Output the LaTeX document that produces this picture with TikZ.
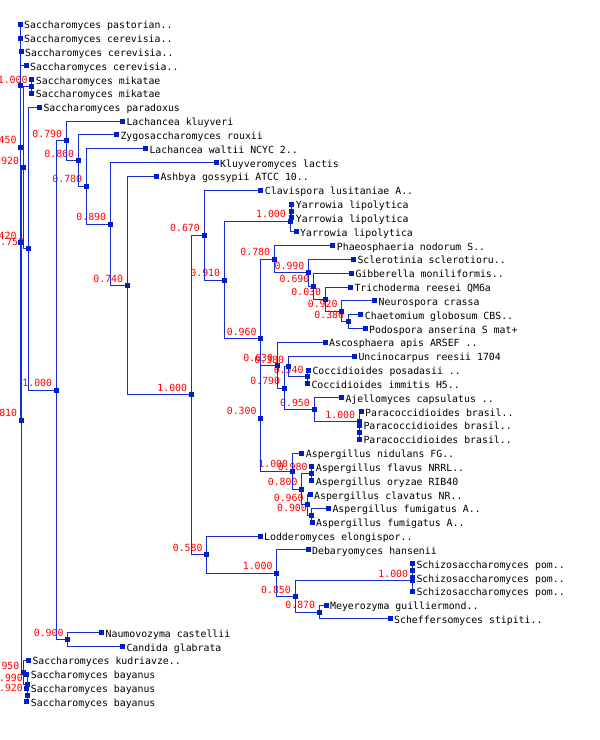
\documentclass[tikz,border=0pt]{standalone}
\usepackage{fontspec}
\newfontfamily\treefont{DejaVu Sans Mono}
\definecolor{treeblue}{RGB}{20,44,210}
\definecolor{sqblue}{RGB}{0,30,200}
\tikzset{
  branch/.style={draw=treeblue, line width=1pt},
  sq/.style={rectangle, fill=sqblue, draw=none, inner sep=0pt, minimum size=5pt},
  leaflab/.style={anchor=base west, inner sep=0pt, xshift=4pt, yshift=-4.5pt,
    font=\treefont\fontsize{9.85}{11}\selectfont, text=black},
  boot/.style={anchor=base east, inner sep=0pt, xshift=-4pt, yshift=3.5pt,
    font=\treefont\fontsize{9.85}{11}\selectfont, text=red},
}
\begin{document}
\begin{tikzpicture}[x=1pt,y=-13.83pt]
\useasboundingbox (0,-0.757) rectangle (600,52.75);
% leaf positions
\foreach \i/\x in {1/20,2/20,3/21,4/26,5/31.7,6/31.7,7/39.3,8/122.3,9/116.3,10/145.3,
  11/216,12/156.3,13/260.7,14/291.7,15/291.7,16/296,17/332.7,18/353.3,19/351.3,20/350.3,
  21/374.5,22/360.7,23/365,24/325,25/354.3,26/308.3,27/307.3,28/341.3,29/361,30/359.3,
  31/359.3,32/301.7,33/311.7,34/311.7,35/310,36/328.3,37/312,38/260,39/308,40/412.3,
  41/412.3,42/412.3,43/326,44/390,45/101.5,46/122.3,47/28.3,48/26.7,49/26.7,50/26.7}
  {\coordinate (L\i) at (\x,\i);}
% internal nodes
\coordinate (root) at (20,3.725);
\coordinate (NC) at (20,5.45);
\coordinate (N450) at (20.7,9.905);
\coordinate (N420) at (20.7,16.81);
\coordinate (N810) at (21.3,29.62);
\coordinate (N920a) at (23.3,11.365);
\coordinate (M) at (31.7,5.5);
\coordinate (N750) at (28.3,17.23);
\coordinate (N56) at (56.3,27.465);
\coordinate (N790) at (66.3,9.43);
\coordinate (N860) at (78.3,10.86);
\coordinate (N780) at (86.3,12.725);
\coordinate (N890) at (110.3,15.45);
\coordinate (N740) at (127.3,19.9);
\coordinate (N1000b) at (191.3,27.795);
\coordinate (N670) at (204,16.245);
\coordinate (N910) at (224.3,19.49);
\coordinate (N1000c) at (290,15.25);
\coordinate (NY1) at (291.7,14.5);
\coordinate (N960) at (260.7,23.73);
\coordinate (N780b) at (274.3,17.985);
\coordinate (A) at (308.5,18.97);
\coordinate (B) at (313.5,19.94);
\coordinate (C) at (325.3,20.875);
\coordinate (D) at (341.7,21.75);
\coordinate (E) at (348.3,22.5);
\coordinate (N300) at (260.7,29.48);
\coordinate (X) at (277.3,25.655);
\coordinate (Y) at (284.3,27.31);
\coordinate (Z) at (288.3,25.75);
\coordinate (Cocc) at (307.7,26.5);
\coordinate (W) at (314,28.875);
\coordinate (P1) at (359.3,29.75);
\coordinate (P2) at (359.3,30.5);
\coordinate (Asp) at (292.3,33.31);
\coordinate (N800) at (301.7,34.625);
\coordinate (FO) at (311.7,33.5);
\coordinate (N960c) at (307.7,35.75);
\coordinate (N900c) at (311,36.5);
\coordinate (N580) at (206.7,39.345);
\coordinate (N1000d) at (276.7,40.69);
\coordinate (N850) at (295,42.375);
\coordinate (S1) at (412.3,41.25);
\coordinate (Sa) at (412.3,40.5);
\coordinate (N870) at (319.3,43.5);
\coordinate (N900b) at (67.7,45.5);
\coordinate (N950) at (23.5,47.875);
\coordinate (N990) at (27,48.75);
\coordinate (N920z) at (27,49.5);
% bootstrap labels
\foreach \n/\v in {M/1.000,N450/0.450,N920a/0.920,N420/0.420,N750/0.750,N810/0.810,
  N56/1.000,N790/0.790,N860/0.860,N780/0.780,N890/0.890,N740/0.740,N1000b/1.000,
  N670/0.670,N910/0.910,N1000c/1.000,N780b/0.780,A/0.990,B/0.690,C/0.030,D/0.920,
  E/0.380,N960/0.960,X/0.630,Z/0.380,Cocc/0.540,Y/0.790,W/0.950,P1/1.000,N300/0.300,
  Asp/1.000,FO/0.980,N800/0.800,N960c/0.960,N900c/0.900,N580/0.580,N1000d/1.000,
  N850/0.850,S1/1.000,N870/0.870,N900b/0.900,N950/0.950,N990/0.990,N920z/0.920}
  {\node[boot] (b\n) at (\n) {\v};}
% branches
\foreach \p/\c in {root/L2,root/NC,NC/L1,NC/N450,N450/L3,N450/N420,N420/L4,N420/N810,
  N810/N920a,N810/N950,N920a/M,N920a/N750,M/L5,M/L6,N750/L7,N750/N56,N56/N790,N56/N900b,
  N790/L8,N790/N860,N860/L9,N860/N780,N780/L10,N780/N890,N890/L11,N890/N740,
  N740/L12,N740/N1000b,N1000b/N670,N1000b/N580,N670/L13,N670/N910,N910/N1000c,N910/N960,
  N1000c/NY1,N1000c/L16,NY1/L14,NY1/L15,N960/N780b,N960/N300,N780b/L17,N780b/A,
  A/L18,A/B,B/L19,B/C,C/L20,C/D,D/L21,D/E,E/L22,E/L23,N300/X,N300/Asp,X/L24,X/Y,
  Y/Z,Y/W,Z/L25,Z/Cocc,Cocc/L26,Cocc/L27,W/L28,W/P1,P1/L29,P1/P2,P2/L30,P2/L31,
  Asp/L32,Asp/N800,N800/FO,N800/N960c,FO/L33,FO/L34,N960c/L35,N960c/N900c,
  N900c/L36,N900c/L37,N580/L38,N580/N1000d,N1000d/L39,N1000d/N850,N850/S1,N850/N870,
  S1/Sa,S1/L42,Sa/L40,Sa/L41,N870/L43,N870/L44,N900b/L45,N900b/L46,
  N950/L47,N950/N990,N990/L48,N990/N920z,N920z/L49,N920z/L50}
  {\draw[branch] (\p) |- (\c);}
% squares
\foreach \n in {L1,L2,L3,L4,L5,L6,L7,L8,L9,L10,L11,L12,L13,L14,L15,L16,L17,L18,L19,L20,
  L21,L22,L23,L24,L25,L26,L27,L28,L29,L30,L31,L32,L33,L34,L35,L36,L37,L38,L39,L40,
  L41,L42,L43,L44,L45,L46,L47,L48,L49,L50,
  NC,N450,N420,N810,N920a,M,N750,N56,N790,N860,N780,N890,N740,N1000b,N670,N910,
  N1000c,NY1,N960,N780b,A,B,C,D,E,N300,X,Y,Z,Cocc,W,P1,P2,Asp,N800,FO,N960c,N900c,
  N580,N1000d,N850,S1,Sa,N870,N900b,N950,N990,N920z}
  {\node[sq] (s\n) at (\n) {};}
% leaf names
\foreach \i/\t in {1/{Saccharomyces pastorian..},2/{Saccharomyces cerevisia..},
  3/{Saccharomyces cerevisia..},4/{Saccharomyces cerevisia..},5/{Saccharomyces mikatae},
  6/{Saccharomyces mikatae},7/{Saccharomyces paradoxus},8/{Lachancea kluyveri},
  9/{Zygosaccharomyces rouxii},10/{Lachancea waltii NCYC 2..},11/{Kluyveromyces lactis},
  12/{Ashbya gossypii ATCC 10..},13/{Clavispora lusitaniae A..},14/{Yarrowia lipolytica},
  15/{Yarrowia lipolytica},16/{Yarrowia lipolytica},17/{Phaeosphaeria nodorum S..},
  18/{Sclerotinia sclerotioru..},19/{Gibberella moniliformis..},20/{Trichoderma reesei QM6a},
  21/{Neurospora crassa},22/{Chaetomium globosum CBS..},23/{Podospora anserina S mat+},
  24/{Ascosphaera apis ARSEF ..},25/{Uncinocarpus reesii 1704},26/{Coccidioides posadasii ..},
  27/{Coccidioides immitis H5..},28/{Ajellomyces capsulatus ..},29/{Paracoccidioides brasil..},
  30/{Paracoccidioides brasil..},31/{Paracoccidioides brasil..},32/{Aspergillus nidulans FG..},
  33/{Aspergillus flavus NRRL..},34/{Aspergillus oryzae RIB40},35/{Aspergillus clavatus NR..},
  36/{Aspergillus fumigatus A..},37/{Aspergillus fumigatus A..},38/{Lodderomyces elongispor..},
  39/{Debaryomyces hansenii},40/{Schizosaccharomyces pom..},41/{Schizosaccharomyces pom..},
  42/{Schizosaccharomyces pom..},43/{Meyerozyma guilliermond..},44/{Scheffersomyces stipiti..},
  45/{Naumovozyma castellii},46/{Candida glabrata},47/{Saccharomyces kudriavze..},
  48/{Saccharomyces bayanus},49/{Saccharomyces bayanus},50/{Saccharomyces bayanus}}
  {\node[leaflab] (T\i) at (L\i) {\t};}
\end{tikzpicture}
\end{document}
